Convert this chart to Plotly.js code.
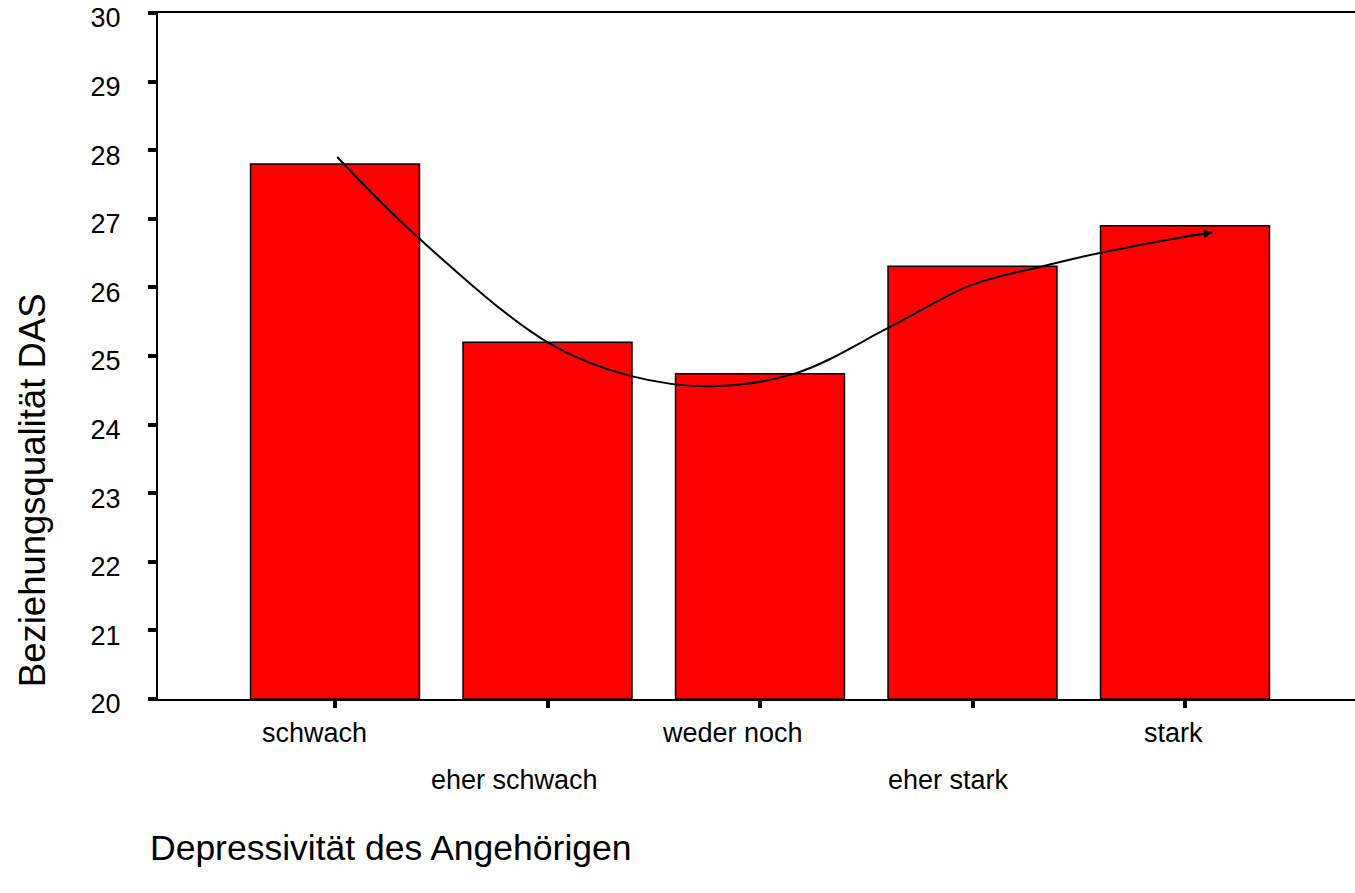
<!DOCTYPE html>
<html>
<head>
<meta charset="utf-8">
<script src="https://cdn.plot.ly/plotly-3.0.1.min.js"></script>
<style>
  html, body { margin: 0; padding: 0; background: #fff; overflow: hidden; }
  #chart { width: 1355px; height: 893px; }
</style>
</head>
<body>
<div id="chart"></div>
<script>
// Mittelwerte je Kategorie
var categories = ["schwach", "eher schwach", "weder noch", "eher stark", "stark"];
var dasMeans = [27.8, 25.2, 24.74, 26.31, 26.9];

// handgezeichnete Trendkurve (x in Kategorie-Einheiten)
var curveX = [0.01, 0.39, 1.0, 1.39, 1.77, 2.17, 2.61, 2.99, 3.32, 3.61, 4.0, 4.13];
var curveY = [27.9, 26.73, 25.2, 24.71, 24.56, 24.75, 25.42, 26.03, 26.3, 26.51, 26.74, 26.8];

var yTicks = [20, 21, 22, 23, 24, 25, 26, 27, 28, 29, 30];

var font = "Liberation Sans, Arial, sans-serif";
var labelSize = 27;

// Textbreite messen, damit die Beschriftung wie im Original leicht nach links versetzt sitzt
var ctx = document.createElement("canvas").getContext("2d");
ctx.font = labelSize + "px 'Liberation Sans', Arial, sans-serif";
function textWidth(s) { return ctx.measureText(s).width; }

var bars = {
  x: categories.map(function (c, i) { return i; }),
  y: dasMeans.map(function (v) { return v - 20; }),
  base: 20,
  type: "bar",
  marker: { color: "#ff0000", line: { color: "#000", width: 1.5 } },
  hoverinfo: "skip"
};

var curve = {
  x: curveX,
  y: curveY,
  type: "scatter",
  mode: "lines",
  line: { color: "#000", width: 2, shape: "spline", smoothing: 1 },
  hoverinfo: "skip"
};

var n = curveX.length;
var annotations = [];

// Pfeilspitze am Kurvenende
annotations.push({
  x: curveX[n - 1], y: curveY[n - 1], xref: "x", yref: "y",
  ax: curveX[n - 2], ay: curveY[n - 2], axref: "x", ayref: "y",
  showarrow: true, arrowhead: 2, arrowsize: 0.9, arrowwidth: 2, arrowcolor: "#000",
  text: ""
});

// Kategorienbeschriftung, zweizeilig versetzt
categories.forEach(function (c, i) {
  annotations.push({
    x: i, xref: "x", y: 0, yref: "paper",
    xanchor: "center", xshift: -0.2 * textWidth(c),
    yanchor: "middle", yshift: i % 2 === 0 ? -34 : -81,
    text: c, showarrow: false,
    font: { family: font, size: labelSize, color: "#000" }
  });
});

annotations.push({
  x: -10 / 1197, xref: "paper", xanchor: "left",
  y: -(848 - 699) / 686.5, yref: "paper", yanchor: "middle",
  text: "Depressivität des Angehörigen", showarrow: false,
  font: { family: font, size: 35.5, color: "#000" }
});

annotations.push({
  x: (32 - 158) / 1197, xref: "paper", xanchor: "center",
  y: (699 - 490) / 686.5, yref: "paper", yanchor: "middle",
  textangle: -90,
  text: "Beziehungsqualität DAS", showarrow: false,
  font: { family: font, size: 36.5, color: "#000" }
});

var layout = {
  width: 1355,
  height: 893,
  margin: { l: 158, r: 0, t: 12.5, b: 194 },
  paper_bgcolor: "#fff",
  plot_bgcolor: "#fff",
  showlegend: false,
  bargap: 0.205,
  xaxis: {
    range: [-0.833, 4.80],
    tickvals: [0, 1, 2, 3, 4],
    showticklabels: false,
    ticks: "outside", ticklen: 7, tickwidth: 4, tickcolor: "#000",
    showline: true, linecolor: "#000", linewidth: 2, mirror: true,
    showgrid: false, zeroline: false, fixedrange: true
  },
  yaxis: {
    range: [20, 30],
    tickvals: yTicks,
    ticks: "outside", ticklen: 8, tickwidth: 4, tickcolor: "#000",
    ticklabelstandoff: 22,
    ticklabelshift: 5,
    ticklabeloverflow: "allow",
    tickfont: { family: font, size: labelSize, color: "#000" },
    showline: true, linecolor: "#000", linewidth: 2,
    showgrid: false, zeroline: false, fixedrange: true
  },
  annotations: annotations
};

Plotly.newPlot("chart", [bars, curve], layout, { displayModeBar: false, staticPlot: true });
</script>
</body>
</html>
